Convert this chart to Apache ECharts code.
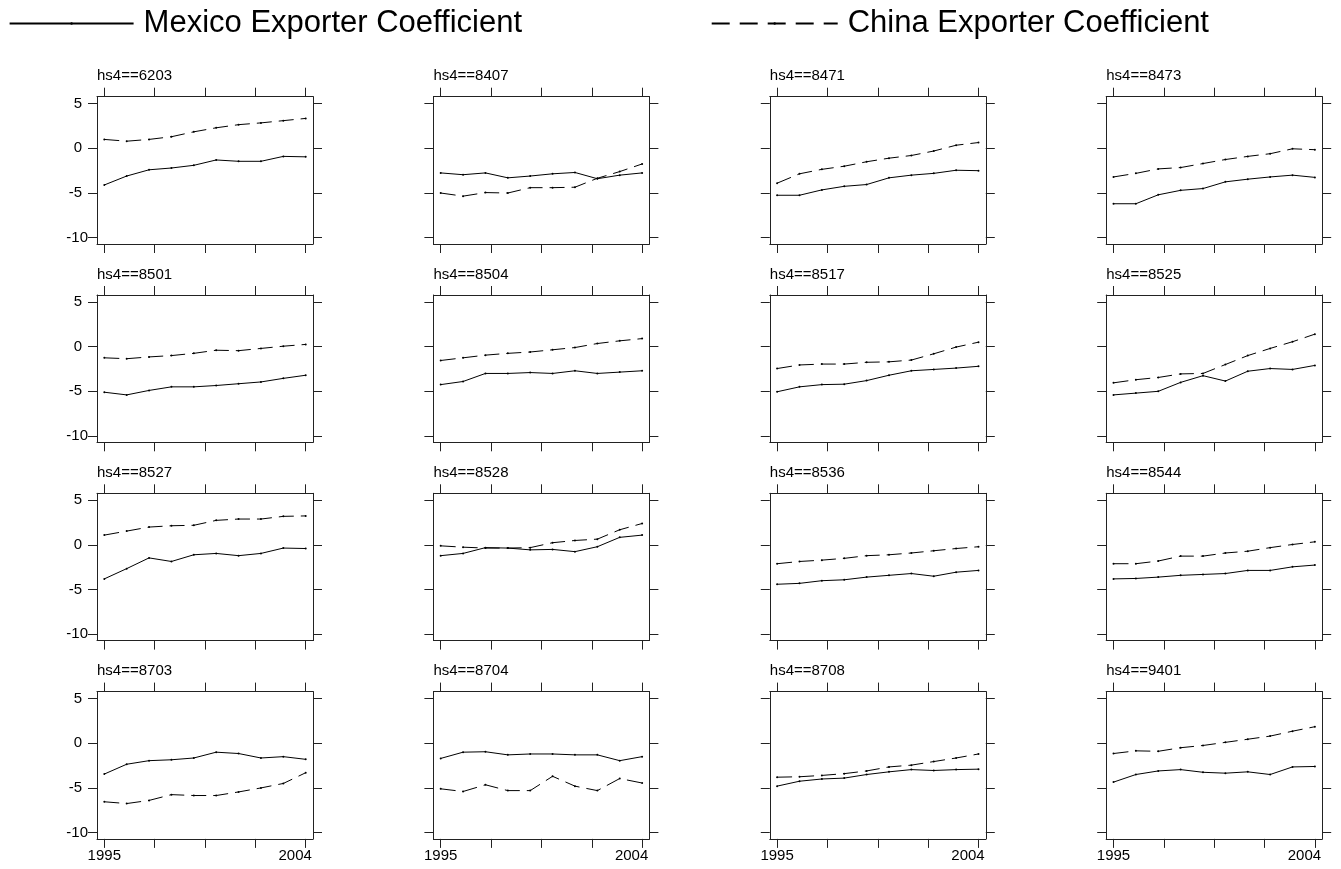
<!DOCTYPE html>
<html><head><meta charset="utf-8">
<script src="https://cdn.jsdelivr.net/npm/echarts@6/dist/echarts.min.js"></script>
<style>html,body{margin:0;padding:0;background:#fff}#c{width:1341px;height:869px}</style>
</head><body><div id="c"></div>
<script>
// ---- data ----
const years = [1995, 1996, 1997, 1998, 1999, 2000, 2001, 2002, 2003, 2004];
const codes = ['6203','8407','8471','8473','8501','8504','8517','8525','8527','8528','8536','8544','8703','8704','8708','9401'];
const xTickValues = [1995, 1997.25, 1999.5, 2001.75, 2004];
const xLabelValues = [1995, 2004];
const yTickValues = [-10, -5, 0, 5];
const mexicoName = 'Mexico Exporter Coefficient';
const chinaName = 'China Exporter Coefficient';
const mexico = [
  [-4.1, -3.1, -2.4, -2.2, -1.9, -1.3, -1.45, -1.45, -0.9, -0.95],   // 6203
  [-2.75, -2.95, -2.75, -3.3, -3.1, -2.85, -2.7, -3.4, -3.0, -2.75], // 8407
  [-5.25, -5.25, -4.65, -4.25, -4.05, -3.3, -3.0, -2.8, -2.45, -2.5],// 8471
  [-6.2, -6.2, -5.2, -4.7, -4.5, -3.75, -3.45, -3.2, -3.0, -3.25],   // 8473
  [-5.1, -5.4, -4.9, -4.5, -4.5, -4.35, -4.15, -3.95, -3.55, -3.2],  // 8501
  [-4.25, -3.9, -3.0, -3.0, -2.9, -3.0, -2.7, -3.0, -2.85, -2.7],    // 8504
  [-5.05, -4.5, -4.25, -4.2, -3.8, -3.2, -2.7, -2.55, -2.4, -2.2],   // 8517
  [-5.4, -5.2, -5.0, -4.0, -3.25, -3.85, -2.75, -2.45, -2.55, -2.1], // 8525
  [-3.8, -2.65, -1.45, -1.85, -1.1, -0.95, -1.2, -0.95, -0.35, -0.4],// 8527
  [-1.2, -0.95, -0.3, -0.35, -0.55, -0.5, -0.75, -0.2, 0.85, 1.1],   // 8528
  [-4.4, -4.3, -4.0, -3.9, -3.6, -3.4, -3.2, -3.5, -3.05, -2.85],    // 8536
  [-3.8, -3.75, -3.6, -3.4, -3.3, -3.2, -2.85, -2.85, -2.45, -2.25], // 8544
  [-3.45, -2.35, -1.95, -1.85, -1.65, -1.0, -1.15, -1.65, -1.5, -1.8],// 8703
  [-1.7, -1.0, -0.95, -1.3, -1.2, -1.2, -1.3, -1.3, -1.95, -1.5],    // 8704
  [-4.8, -4.25, -4.0, -3.9, -3.5, -3.2, -2.95, -3.05, -2.95, -2.9],  // 8708
  [-4.35, -3.5, -3.1, -2.95, -3.25, -3.35, -3.2, -3.5, -2.65, -2.6]  // 9401
];
const china = [
  [1.0, 0.8, 1.0, 1.3, 1.85, 2.3, 2.65, 2.85, 3.1, 3.35],            // 6203
  [-5.0, -5.35, -4.95, -5.0, -4.4, -4.4, -4.35, -3.35, -2.6, -1.75], // 8407
  [-3.9, -2.85, -2.35, -2.0, -1.5, -1.1, -0.8, -0.3, 0.35, 0.65],    // 8471
  [-3.2, -2.8, -2.3, -2.15, -1.7, -1.25, -0.9, -0.6, -0.05, -0.15],  // 8473
  [-1.25, -1.35, -1.15, -1.0, -0.75, -0.4, -0.45, -0.2, 0.05, 0.25], // 8501
  [-1.55, -1.25, -0.95, -0.75, -0.6, -0.35, -0.1, 0.35, 0.65, 0.9],  // 8504
  [-2.45, -2.05, -1.95, -1.95, -1.75, -1.7, -1.5, -0.8, -0.05, 0.5], // 8517
  [-4.05, -3.7, -3.45, -3.05, -3.0, -2.0, -1.0, -0.2, 0.55, 1.4],    // 8525
  [1.1, 1.55, 2.0, 2.15, 2.2, 2.75, 2.9, 2.9, 3.2, 3.25],            // 8527
  [-0.1, -0.25, -0.35, -0.35, -0.3, 0.25, 0.5, 0.65, 1.7, 2.4],      // 8528
  [-2.1, -1.85, -1.7, -1.5, -1.2, -1.1, -0.9, -0.65, -0.4, -0.2],    // 8536
  [-2.1, -2.1, -1.8, -1.25, -1.25, -0.9, -0.7, -0.3, 0.05, 0.35],    // 8544
  [-6.55, -6.75, -6.4, -5.75, -5.85, -5.85, -5.45, -5.0, -4.5, -3.3],// 8703
  [-5.1, -5.4, -4.65, -5.3, -5.3, -3.7, -4.8, -5.3, -3.95, -4.45],   // 8704
  [-3.8, -3.75, -3.6, -3.4, -3.1, -2.65, -2.45, -2.05, -1.65, -1.2], // 8708
  [-1.15, -0.85, -0.9, -0.5, -0.25, 0.1, 0.45, 0.8, 1.35, 1.85]      // 9401
];

// ---- layout / style ----
const FONT = "'Liberation Sans', Arial, Helvetica, sans-serif";
const INK = '#222';
const X_MIN = 1994.674, X_MAX = 2004.326;
const Y_MIN = -10.705, Y_MAX = 5.78;
const GRID_W = 216, GRID_H = 147.3;
const COL0 = 97, COL_STEP = 336.4, ROW0 = 96.7, ROW_STEP = 198.3;

const grids = [], xAxes = [], yAxes = [], series = [], titles = [];
const axisLine = { show: true, onZero: false, lineStyle: { color: INK, width: 1 } };
const tickBase = { show: true, inside: false, length: 9, lineStyle: { color: INK, width: 1 } };

codes.forEach((code, i) => {
  const r = Math.floor(i / 4), c = i % 4;
  const left = COL0 + COL_STEP * c, top = ROW0 + ROW_STEP * r;
  grids.push({ left: left, top: top, width: GRID_W, height: GRID_H, containLabel: false });

  const xLabel = r === 3 ? {
    show: true, customValues: xLabelValues, margin: 9,
    formatter: v => v === 2004 ? '{r|2004}' : '{c|' + v + '}',
    rich: {
      r: { fontSize: 15, fontFamily: FONT, color: '#000', padding: [0, 21, 0, 0] },
      c: { fontSize: 15, fontFamily: FONT, color: '#000' }
    }
  } : { show: false };
  xAxes.push({ gridIndex: i, type: 'value', position: 'bottom', min: X_MIN, max: X_MAX,
    axisLine: axisLine, axisTick: Object.assign({ customValues: xTickValues }, tickBase),
    axisLabel: xLabel, splitLine: { show: false } });
  xAxes.push({ gridIndex: i, type: 'value', position: 'top', min: X_MIN, max: X_MAX,
    axisLine: axisLine, axisTick: Object.assign({ customValues: xTickValues }, tickBase),
    axisLabel: { show: false }, splitLine: { show: false } });

  const yLabel = c === 0 ? {
    show: true, customValues: yTickValues, margin: 9,
    formatter: v => v === -10 ? '{a|-10}' : '{b|' + v + '}',
    rich: {
      a: { fontSize: 15, fontFamily: FONT, color: '#000' },
      b: { fontSize: 15, fontFamily: FONT, color: '#000', padding: [0, 6, 0, 0] }
    }
  } : { show: false };
  yAxes.push({ gridIndex: i, type: 'value', position: 'left', min: Y_MIN, max: Y_MAX,
    axisLine: axisLine, axisTick: Object.assign({ customValues: yTickValues }, tickBase),
    axisLabel: yLabel, splitLine: { show: false } });
  yAxes.push({ gridIndex: i, type: 'value', position: 'right', min: Y_MIN, max: Y_MAX,
    axisLine: axisLine, axisTick: Object.assign({ customValues: yTickValues }, tickBase),
    axisLabel: { show: false }, splitLine: { show: false } });

  series.push({
    type: 'line', name: mexicoName, xAxisIndex: 2 * i, yAxisIndex: 2 * i,
    data: years.map((y, k) => [y, mexico[i][k]]),
    symbol: 'circle', symbolSize: 2, showSymbol: true,
    lineStyle: { color: '#000', width: 1, type: 'solid' },
    itemStyle: { color: '#000' }, emphasis: { disabled: true }
  });
  series.push({
    type: 'line', name: chinaName, xAxisIndex: 2 * i, yAxisIndex: 2 * i,
    data: years.map((y, k) => [y, china[i][k]]),
    symbol: 'circle', symbolSize: 2, showSymbol: true,
    lineStyle: { color: '#000', width: 1, type: [15, 7] },
    itemStyle: { color: '#000' }, emphasis: { disabled: true }
  });

  titles.push({ text: 'hs4==' + code, left: left, top: top - 28, padding: 0,
    textStyle: { fontSize: 15, fontWeight: 'normal', color: '#000', fontFamily: FONT } });
});

const legendText = { fontSize: 31, lineHeight: 31, color: '#000', fontFamily: FONT, padding: [0, 0, 0, 5] };
const option = {
  animation: false,
  backgroundColor: '#fff',
  title: titles,
  legend: [
    { data: [mexicoName], left: 8.6, top: 8, itemWidth: 124, itemHeight: 3, selectedMode: false,
      textStyle: legendText, padding: 0 },
    { data: [chinaName], left: 710.7, top: 8, itemWidth: 126, itemHeight: 3, selectedMode: false,
      lineStyle: { type: [18, 10] }, textStyle: legendText, padding: 0 }
  ],
  grid: grids,
  xAxis: xAxes,
  yAxis: yAxes,
  series: series
};
const chart = echarts.init(document.getElementById('c'), null, { renderer: 'canvas' });
chart.setOption(option);
</script>
</body></html>
